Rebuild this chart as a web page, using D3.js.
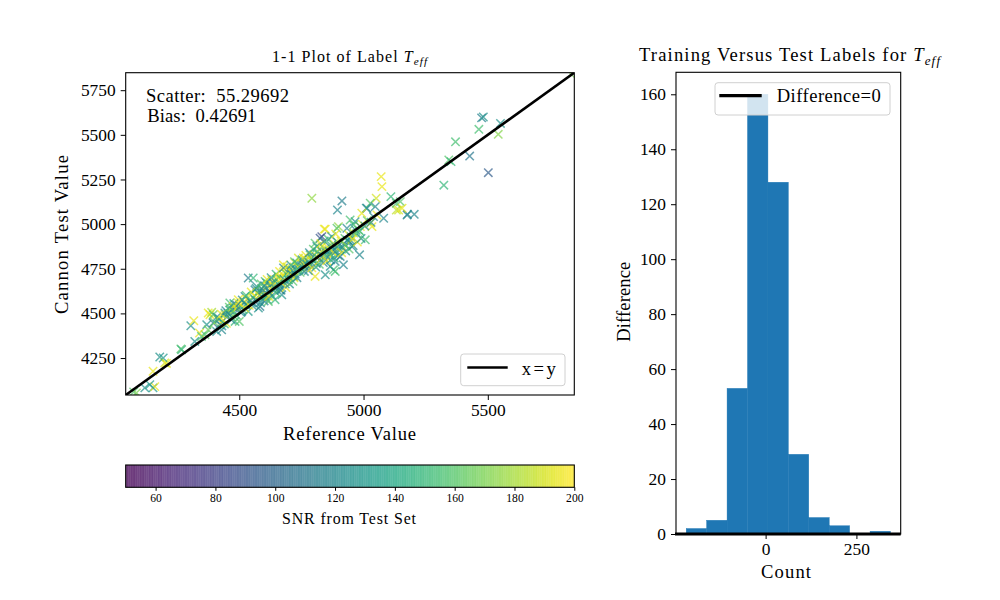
<!DOCTYPE html>
<html><head><meta charset="utf-8">
<script src="https://cdn.jsdelivr.net/npm/d3@7"></script>
<style>
body{margin:0;background:#fff;}
svg{font-family:"Liberation Serif","DejaVu Serif",serif;}
</style></head><body>
<svg id="chart" width="1000" height="600"></svg>
<script>
// ---------------- DATA ----------------
const refValues=[
5835,5475,5482,5551,5464,5542,5370,5343,5352,5427,
5502,5323,5177,5204,5132,5148,5110,5071,5074,5051,
4792,4913,4895,5014,5081,4825,4984,4842,4879,4536,
4305,4317,4375,4265,4180,4153,4200,4120,4153,4160,
4075,4500,4476,4490,4583,4610,4382,4389,4369,4395,
4415,4442,4462,4483,4536,4530,4362,4340,4321,4268,
4194,4207,4140,4086,4409,4429,4375,4348,4422,4395,
4442,4462,4476,4496,4483,4510,4523,4556,4563,4583,
4550,4597,4610,4630,4644,4657,4677,4684,4704,4718,
4724,4738,4745,4698,4577,4617,4671,4644,4832,4846,
4899,4933,4960,4987,4946,5007,5040,4886,4866,4919,
4906,4873,4832,4805,4785,4758,4772,4731,4691,4712,
4657,4637,4604,4570,4590,4624,4664,4805,4846,4886,
4953,4973,5027,5132,5141,5175,5027,5011,4993,5034,
4966,4946,4893,4980,5054,5047,5155,4560,4575,4590,
4600,4615,4625,4640,4650,4660,4670,4680,4690,4700,
4705,4715,4725,4735,4740,4750,4755,4765,4770,4780,
4790,4795,4800,4810,4815,4820,4830,4835,4845,4850,
4855,4860,4870,4875,4880,4890,4895,4900,4910,4920,
4925,4935,4940,4950,4960,4970,4985,4995,5005,5015,
5030,4520,4530,4545,4555,4565,4580,4595,4605,4620,
4635,4645,4655,4665,4675,4685,4695,4710,4720,4730,
4745,4760,4775,4785,4800,4810,4825,4840,4850,4865,
4880,4890,4905,4915,4930,4945,4955,4400,4420,4435,
4450,4465,4480,4490,4505,4515,4525,4540,4550,4470,
4455,4440,
4548,4568,4588,4602,4612,4628,4648,4662,4678,4692,
4708,4722,4585,4600,4618,4632,4650,4668,4688,4702,
4716,4732,4752,4768,4782,4798,4812,4828,4842,4858,
4872,4888,4762,4778,4792,4808,4822,4838,4852,4868,
4882,4898,4912,4928,4942,4958,4975,4990,4410,4428,
4446,4460,4478,4495,4512,4528,4430,4448,4468,4488,
4506,4522];
const cannonValues=[
5840,5595,5600,5564,5531,5503,5461,5359,5350,5381,
5288,5218,5055,5055,5079,5126,5154,5266,5210,5145,
5145,5130,5079,5089,5033,4921,4828,4972,4744,4698,
4431,4459,4502,4301,4256,4176,4223,4083,4083,4090,
4060,4455,4530,4545,4539,4580,4493,4506,4437,4446,
4465,4493,4520,4530,4511,4548,4381,4390,4343,4297,
4250,4220,4101,4055,4399,4408,4408,4371,4437,4493,
4502,4558,4539,4577,4455,4511,4595,4698,4632,4623,
4548,4586,4670,4688,4651,4707,4772,4726,4744,4707,
4782,4810,4754,4688,4530,4567,4604,4577,4930,4972,
4986,4977,4996,4986,4912,4912,5042,4735,4763,4772,
4819,4846,4874,4893,4828,4810,4772,4782,4735,4712,
4698,4670,4679,4651,4614,4614,4632,4707,4716,4791,
4874,4949,5005,5117,5079,5051,5117,5089,5061,4986,
5014,5023,4977,4967,5051,5098,5089,4600,4615,4640,
4610,4650,4660,4630,4690,4670,4700,4690,4720,4700,
4735,4740,4720,4760,4745,4780,4760,4790,4800,4785,
4810,4800,4830,4815,4845,4830,4850,4820,4860,4840,
4870,4850,4880,4860,4890,4870,4900,4880,4905,4890,
4920,4910,4940,4930,4950,4965,4960,5000,4990,5020,
5010,4560,4580,4570,4590,4575,4600,4630,4595,4620,
4655,4640,4665,4650,4680,4665,4690,4720,4700,4745,
4730,4770,4755,4770,4790,4780,4800,4810,4820,4830,
4840,4850,4860,4870,4880,4900,4915,4450,4470,4460,
4480,4500,4510,4530,4540,4520,4550,4545,4560,4480,
4500,4440,
4620,4640,4665,4655,4690,4700,4720,4735,4755,4760,
4770,4790,4560,4570,4595,4600,4615,4630,4645,4665,
4680,4700,4800,4825,4840,4860,4875,4890,4905,4915,
4930,4945,4735,4740,4755,4760,4775,4785,4795,4800,
4810,4825,4840,4850,4860,4880,4900,4920,4480,4495,
4515,4535,4555,4560,4575,4600,4430,4445,4465,4490,
4505,4530];
const snrValues=[
170,115,125,125,155,172,155,160,150,110,
95,150,115,120,185,160,150,195,195,190,
175,115,120,115,120,90,120,195,155,115,
125,195,195,160,125,195,190,125,130,195,
160,160,110,100,110,125,195,180,125,105,
195,190,125,120,130,195,160,195,125,150,
130,195,130,170,125,120,165,155,110,160,
130,155,195,195,150,120,125,150,120,195,
130,125,115,195,125,190,195,185,125,115,
195,190,120,130,125,160,125,150,85,195,
175,120,155,195,125,155,120,155,125,120,
115,195,195,160,155,195,120,125,195,130,
195,120,155,125,120,125,105,195,125,120,
125,160,195,155,190,120,160,125,195,195,
125,155,160,160,195,120,195,195,125,160,
120,195,125,115,175,125,195,120,155,125,
195,130,120,185,125,195,115,160,195,120,
125,175,195,120,155,125,195,115,160,125,
195,120,150,125,195,115,170,120,195,125,
160,120,195,125,180,120,155,195,125,165,
120,125,195,120,160,125,195,115,155,120,
195,125,165,120,195,125,150,120,195,125,
160,120,195,125,155,120,195,125,165,120,
195,125,150,120,175,125,195,160,125,195,
120,175,125,195,120,155,125,195,120,160,
125,150,
195,125,160,120,195,125,150,195,120,190,
125,160,125,120,195,125,155,120,195,125,
160,120,125,195,120,160,125,195,120,155,
125,195,125,120,195,125,160,120,195,125,
150,120,195,125,160,120,195,125,125,195,
120,160,125,195,120,155,125,195,120,155,
125,195];
const statLines=["Scatter:  55.29692","Bias:  0.42691"];
const scatterXTicks=[4500,5000,5500];
const scatterYTicks=[4250,4500,4750,5000,5250,5500,5750];
const snrTicks=[60,80,100,120,140,160,180,200];
const histEdges=[-218.6,-162.4,-106.1,-49.9,6.4,62.6,118.8,175.1,231.3,287.6,343.8];
const histCounts=[2,5,53,160,128,29,6,3,0,1];
const histXTicks=[0,250];
const histYTicks=[0,20,40,60,80,100,120,140,160];

// ---------------- DRAW ----------------
const svg=d3.select("#chart");
const FS=18.6, TFS=17.4;
const L={x0:125.7,x1:574.3,y0:72.7,y1:395};
const lim=[4043,5848];
const x=d3.scaleLinear().domain(lim).range([L.x0,L.x1]);
const y=d3.scaleLinear().domain(lim).range([L.y1,L.y0]);
const cnorm=d3.scaleLinear().domain([50,200]).range([0,1]).clamp(true);
const col=v=>d3.interpolateViridis(cnorm(v));
const fit=(sel,w)=>sel.attr("textLength",w).attr("lengthAdjust","spacing");

svg.append("defs").append("clipPath").attr("id","clipS")
  .append("rect").attr("x",L.x0).attr("y",L.y0).attr("width",L.x1-L.x0).attr("height",L.y1-L.y0);

const n=Math.min(refValues.length,cannonValues.length,snrValues.length);
const pts=d3.range(n).map(i=>({r:refValues[i],c:cannonValues[i],s:snrValues[i]}));
const g=svg.append("g").attr("clip-path","url(#clipS)");
g.selectAll("path.pt").data(pts).join("path").attr("class","pt")
  .attr("transform",d=>`translate(${x(d.r)},${y(d.c)})`)
  .attr("d","M-4.2,-4.2L4.2,4.2M-4.2,4.2L4.2,-4.2")
  .attr("stroke",d=>col(d.s)).attr("stroke-width",1.5).attr("fill","none").attr("opacity",0.7);
g.append("line").attr("x1",x(lim[0])).attr("y1",y(lim[0])).attr("x2",x(lim[1])).attr("y2",y(lim[1]))
  .attr("stroke","#000").attr("stroke-width",2.6);

function styleAxis(sel,fs){
  sel.selectAll("path.domain").remove();
  sel.selectAll(".tick line").attr("stroke","#000").attr("stroke-width",1);
  sel.selectAll(".tick text").attr("font-size",fs).attr("font-family",'"Liberation Serif",serif').attr("fill","#000");
}
const xa=svg.append("g").attr("transform",`translate(0,${L.y1})`)
  .call(d3.axisBottom(x).tickValues(scatterXTicks).tickSize(5).tickPadding(4).tickFormat(d3.format("d")));
styleAxis(xa,TFS);
const ya=svg.append("g").attr("transform",`translate(${L.x0},0)`)
  .call(d3.axisLeft(y).tickValues(scatterYTicks).tickSize(5).tickPadding(5).tickFormat(d3.format("d")));
styleAxis(ya,TFS);
svg.append("rect").attr("x",L.x0).attr("y",L.y0).attr("width",L.x1-L.x0).attr("height",L.y1-L.y0)
  .attr("fill","none").attr("stroke","#000").attr("stroke-width",1.1);

// titles with T_eff
function teff(t,fs){
  t.append("tspan").attr("font-style","italic").text("T");
  t.append("tspan").attr("font-style","italic").attr("font-size",fs*0.7).attr("dy",fs*0.2).text("eff");
}
const t1=svg.append("text").attr("x",272).attr("y",62).attr("font-size",16);
t1.append("tspan").text("1-1 Plot of Label "); teff(t1,16);
fit(t1,155);

statLines.forEach((s,i)=>{
  const t=svg.append("text").attr("x",146+(i?1.3:0)).attr("y",102+i*19.5).attr("font-size",FS)
    .style("white-space","pre").text(s);
  fit(t,i?109:143);
});
// legend x=y
svg.append("rect").attr("x",460.7).attr("y",354).attr("width",104.3).attr("height",31.7).attr("rx",3)
  .attr("fill","#fff").attr("fill-opacity",0.8).attr("stroke","#d0d0d0");
svg.append("line").attr("x1",467.3).attr("x2",507.7).attr("y1",367.5).attr("y2",367.5).attr("stroke","#000").attr("stroke-width",2.6);
fit(svg.append("text").attr("x",521.7).attr("y",375).attr("font-size",FS).text("x=y"),34);

fit(svg.append("text").attr("x",283).attr("y",440).attr("font-size",FS).text("Reference Value"),133);
fit(svg.append("text").attr("transform",`translate(68,314) rotate(-90)`).attr("font-size",FS).text("Cannon Test Value"),159);

// colorbar
const CB={x0:125.7,x1:574.3,y0:465,y1:487.3};
const cx=d3.scaleLinear().domain([50,200]).range([CB.x0,CB.x1]);
const cbSteps=d3.range(50,200,0.6);
svg.append("g").selectAll("rect").data(cbSteps).join("rect")
  .attr("x",d=>cx(d)).attr("width",d=>cx(d+0.6)-cx(d)+0.4).attr("y",CB.y0).attr("height",CB.y1-CB.y0)
  .attr("fill",d=>col(d+0.3)).attr("opacity",0.72);
svg.append("rect").attr("x",CB.x0).attr("y",CB.y0).attr("width",CB.x1-CB.x0).attr("height",CB.y1-CB.y0)
  .attr("fill","none").attr("stroke","#000").attr("stroke-width",1.1);
const ca=svg.append("g").attr("transform",`translate(0,${CB.y1})`)
  .call(d3.axisBottom(cx).tickValues(snrTicks).tickSize(3.5).tickPadding(3).tickFormat(d3.format("d")));
styleAxis(ca,11.6);
fit(svg.append("text").attr("x",282).attr("y",524).attr("font-size",15.9).text("SNR from Test Set"),134);

// histogram
const H={x0:676,x1:900.7,y0:72.3,y1:534};
const hx=d3.scaleLinear().domain([-246.7,371.9]).range([H.x0,H.x1]);
const hy=d3.scaleLinear().domain([0,168]).range([H.y1,H.y0]);
const bins=histCounts.map((c,i)=>({a:histEdges[i],b:histEdges[i+1],c}));
svg.append("g").selectAll("rect").data(bins).join("rect")
  .attr("x",d=>hx(d.a)).attr("width",d=>hx(d.b)-hx(d.a)).attr("y",d=>hy(d.c)).attr("height",d=>hy(0)-hy(d.c))
  .attr("fill","#1f77b4").attr("stroke","#1f77b4").attr("stroke-width",0.4);
svg.append("line").attr("x1",H.x0-1).attr("x2",H.x1).attr("y1",hy(0)).attr("y2",hy(0)).attr("stroke","#000").attr("stroke-width",3.2);
const hxa=svg.append("g").attr("transform",`translate(0,${H.y1})`)
  .call(d3.axisBottom(hx).tickValues(histXTicks).tickSize(5).tickPadding(4).tickFormat(d3.format("d")));
styleAxis(hxa,TFS);
const hya=svg.append("g").attr("transform",`translate(${H.x0},0)`)
  .call(d3.axisLeft(hy).tickValues(histYTicks).tickSize(5).tickPadding(5).tickFormat(d3.format("d")));
styleAxis(hya,TFS);
svg.append("rect").attr("x",H.x0).attr("y",H.y0).attr("width",H.x1-H.x0).attr("height",H.y1-H.y0)
  .attr("fill","none").attr("stroke","#000").attr("stroke-width",1.1);
// legend
svg.append("rect").attr("x",715).attr("y",82.7).attr("width",175).attr("height",32.3).attr("rx",3)
  .attr("fill","#fff").attr("fill-opacity",0.8).attr("stroke","#d0d0d0");
svg.append("line").attr("x1",719.3).attr("x2",761.7).attr("y1",95.7).attr("y2",95.7).attr("stroke","#000").attr("stroke-width",3.2);
fit(svg.append("text").attr("x",776.7).attr("y",102).attr("font-size",FS).text("Difference=0"),104);

const t2=svg.append("text").attr("x",639).attr("y",61).attr("font-size",FS);
t2.append("tspan").text("Training Versus Test Labels for "); teff(t2,FS);
fit(t2,301);
fit(svg.append("text").attr("x",761).attr("y",578).attr("font-size",FS).text("Count"),50);
fit(svg.append("text").attr("transform",`translate(630,341.7) rotate(-90)`).attr("font-size",FS).text("Difference"),80);
</script></body></html>
